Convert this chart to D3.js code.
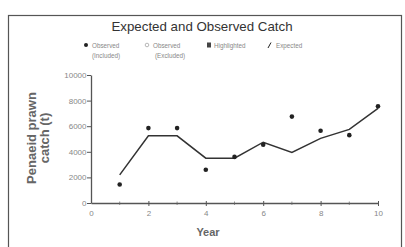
<!DOCTYPE html>
<html>
<head>
<meta charset="utf-8">
<script src="https://cdn.jsdelivr.net/npm/d3@7"></script>
<style>
  body { margin: 0; background: #fff; }
  text { font-family: "Liberation Sans", Arial, sans-serif; }
</style>
</head>
<body>
<div class="chart"></div>
<script>
// data
var years = [1, 2, 3, 4, 5, 6, 7, 8, 9, 10];
var observed = [1450, 5850, 5850, 2600, 3600, 4550, 6750, 5650, 5300, 7550];
var expected = [2200, 5250, 5250, 3500, 3500, 4750, 3950, 5050, 5750, 7400];
var xTicks = [0, 2, 4, 6, 8, 10];
var xMinor = [1, 3, 5, 7, 9];
var yTicks = [0, 2000, 4000, 6000, 8000, 10000];

var width = 405, height = 247;
var margin = {left: 91, right: 27, top: 75, bottom: 44};

var svg = d3.select(".chart").append("svg")
  .attr("width", width)
  .attr("height", height);

// frame
svg.append("rect")
  .attr("x", 8.5).attr("y", 15.5)
  .attr("width", 393).attr("height", 250)
  .attr("fill", "none")
  .attr("stroke", "#555")
  .attr("stroke-width", 1.2);

var x = d3.scaleLinear().domain([0, 10]).range([margin.left, width - margin.right]);
var y = d3.scaleLinear().domain([0, 10000]).range([height - margin.bottom, margin.top]);

// title
svg.append("text")
  .attr("x", 202).attr("y", 31)
  .attr("text-anchor", "middle")
  .attr("font-size", 13.3)
  .attr("fill", "#333")
  .text("Expected and Observed Catch");

// legend
var lg = svg.append("g").attr("fill", "#888").attr("font-size", 6.3);
lg.append("circle").attr("cx", 86).attr("cy", 45).attr("r", 2).attr("fill", "#222");
lg.append("text").attr("x", 92).attr("y", 47.5).text("Observed");
lg.append("text").attr("x", 92).attr("y", 58).text("(Included)");
lg.append("circle").attr("cx", 147).attr("cy", 45).attr("r", 1.8)
  .attr("fill", "none").attr("stroke", "#999").attr("stroke-width", 0.7);
lg.append("text").attr("x", 153).attr("y", 47.5).text("Observed");
lg.append("text").attr("x", 155).attr("y", 58).text("(Excluded)");
lg.append("rect").attr("x", 207).attr("y", 42.5).attr("width", 4).attr("height", 5).attr("fill", "#444");
lg.append("text").attr("x", 214).attr("y", 47.5).text("Highlighted");
lg.append("line").attr("x1", 268).attr("y1", 48).attr("x2", 271).attr("y2", 42.5)
  .attr("stroke", "#222").attr("stroke-width", 1);
lg.append("text").attr("x", 276).attr("y", 47.5).text("Expected");

// axes
var xAxis = d3.axisBottom(x).tickValues(xTicks).tickSize(3).tickSizeOuter(0)
  .tickFormat(d3.format("d"));
var yAxis = d3.axisLeft(y).tickValues(yTicks).tickSize(4).tickSizeOuter(0)
  .tickFormat(d3.format("d"));

var gx = svg.append("g")
  .attr("transform", "translate(0," + y(0) + ")")
  .call(xAxis);
gx.selectAll(".tick line").attr("y1", -2).attr("y2", 3);
gx.selectAll(".tick").filter(function(d) { return d === 0; }).select("line").remove();

svg.append("g").selectAll("line")
  .data(xMinor)
  .enter().append("line")
    .attr("x1", function(d) { return x(d); })
    .attr("x2", function(d) { return x(d); })
    .attr("y1", y(0) - 1.5)
    .attr("y2", y(0) + 2)
    .attr("stroke", "#666")
    .attr("stroke-width", 0.7);

var gy = svg.append("g")
  .attr("transform", "translate(" + x(0) + ",0)")
  .call(yAxis);

[gx, gy].forEach(function(g) {
  g.select(".domain").attr("stroke", "#555").attr("stroke-width", 1.3);
  g.selectAll(".tick line").attr("stroke", "#555");
  g.selectAll(".tick text")
    .attr("fill", "#888")
    .attr("font-size", 8)
    .attr("font-family", "'Liberation Sans', Arial, sans-serif");
});
gx.selectAll(".tick text").attr("dy", "0.85em");
gy.selectAll(".tick text").attr("x", -4.5);

// axis titles
svg.append("text")
  .attr("transform", "translate(36,138) rotate(-90)")
  .attr("text-anchor", "middle")
  .attr("font-size", 13)
  .attr("font-weight", "bold")
  .attr("fill", "#666")
  .text("Penaeid prawn");
svg.append("text")
  .attr("transform", "translate(49,138) rotate(-90)")
  .attr("text-anchor", "middle")
  .attr("font-size", 13)
  .attr("font-weight", "bold")
  .attr("fill", "#666")
  .text("catch (t)");

svg.append("text")
  .attr("x", 208).attr("y", 236)
  .attr("text-anchor", "middle")
  .attr("font-size", 11)
  .attr("font-weight", "bold")
  .attr("fill", "#666")
  .text("Year");

// expected line
var line = d3.line()
  .x(function(d, i) { return x(years[i]); })
  .y(function(d) { return y(d); });

svg.append("path")
  .attr("d", line(expected))
  .attr("fill", "none")
  .attr("stroke", "#333")
  .attr("stroke-width", 1.5);

// observed points
svg.selectAll("circle.obs")
  .data(observed)
  .enter().append("circle")
    .attr("class", "obs")
    .attr("cx", function(d, i) { return x(years[i]); })
    .attr("cy", function(d) { return y(d); })
    .attr("r", 2.3)
    .attr("fill", "#222");
</script>
</body>
</html>
